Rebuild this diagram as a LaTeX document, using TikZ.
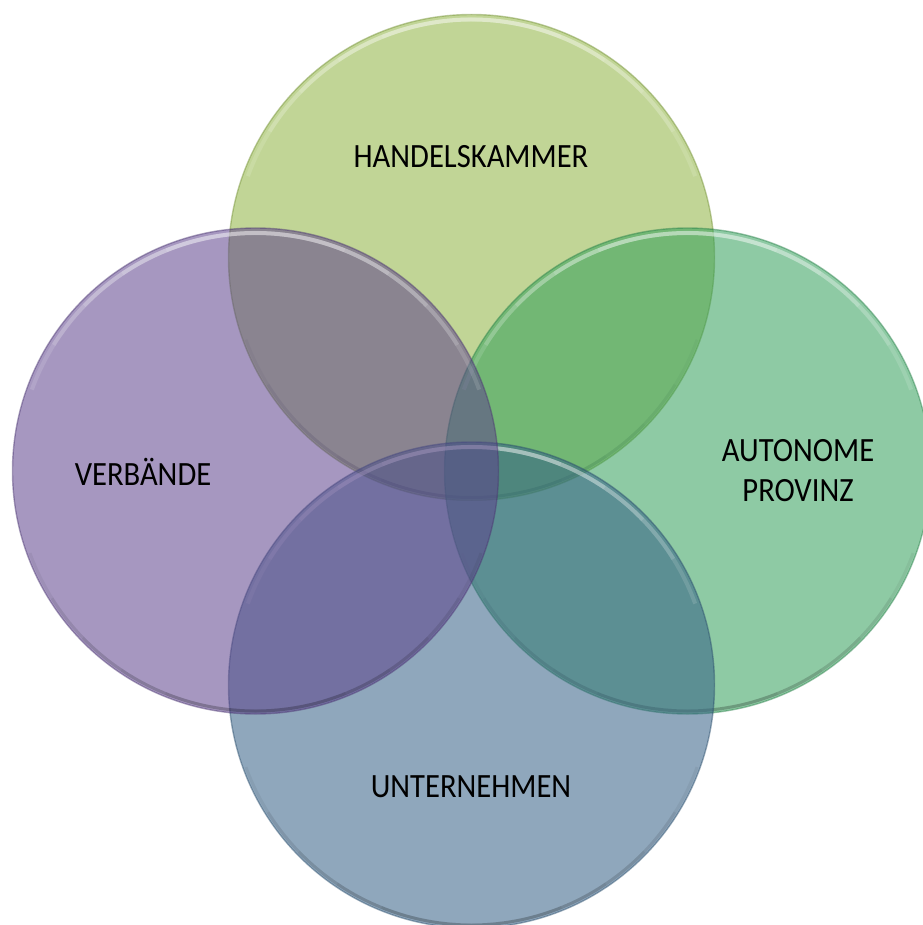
\documentclass[tikz,border=0pt]{standalone}
\usepackage{fontspec}
\setmainfont{Carlito}[FakeStretch=0.9]
\begin{document}
\begin{tikzpicture}[x=0.5pt,y=-0.5pt,
  venn/.style={circle, minimum size=243pt, inner sep=0pt, fill opacity=0.55, line width=0.7pt, draw opacity=0.45},
  glow/.style={white, line width=2pt, opacity=0.13},
  shade/.style={black, line width=1.5pt, opacity=0.05},
  lbl/.style={font=\fontsize{17}{20}\selectfont, text=black, align=center}]
\definecolor{cTop}{HTML}{8EB340}
\definecolor{cLeft}{HTML}{5D428C}
\definecolor{cRight}{HTML}{329F5A}
\definecolor{cBot}{HTML}{335F85}
\newcommand{\vennfx}[1]{%
  \foreach \s in {0,12,24,36,48}{%
    \draw[glow] (#1.center) ++(200+\s:238) arc[start angle=200+\s, end angle=340-\s, radius=238];
    \draw[shade] (#1.center) ++(20+\s:240) arc[start angle=20+\s, end angle=160-\s, radius=240];
  }}
\useasboundingbox (0,0) rectangle (922,925);
\node[venn, fill=cTop, draw=cTop!80!black] (top) at (471.5,257.5) {};
\vennfx{top}
\node[venn, fill=cRight, draw=cRight!80!black] (right) at (687.5,471) {};
\vennfx{right}
\node[venn, fill=cBot, draw=cBot!80!black] (bot) at (471.5,685) {};
\vennfx{bot}
\node[venn, fill=cLeft, draw=cLeft!80!black] (left) at (255.5,471) {};
\vennfx{left}
\node[lbl] (tTop) at (471,157) {HANDELSKAMMER};
\node[lbl] (tLeft) at (143,472) {VERBÄNDE};
\node[lbl] (tRight) at (798,471) {AUTONOME\\PROVINZ};
\node[lbl] (tBot) at (471,787) {UNTERNEHMEN};
\end{tikzpicture}
\end{document}
